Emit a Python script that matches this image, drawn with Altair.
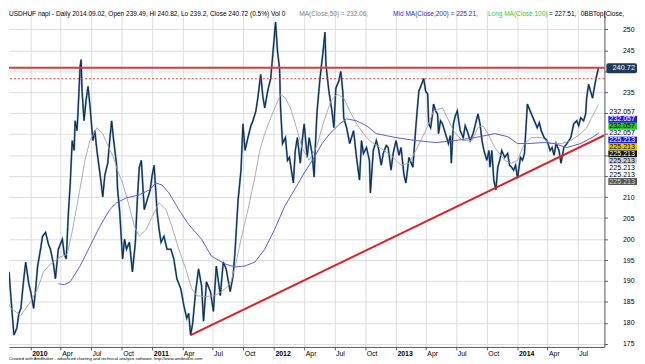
import altair as alt
import pandas as pd
import numpy as np

FONT = "Liberation Sans"

# ---- price (close): decimal year, value ----
close_t = [2009.773, 2009.789, 2009.805, 2009.822, 2009.838, 2009.862, 2009.886, 2009.903, 2009.919, 2009.943,
           2009.959, 2009.984, 2010.000, 2010.024, 2010.041, 2010.057, 2010.081, 2010.097, 2010.122, 2010.146,
           2010.162, 2010.187, 2010.203, 2010.227, 2010.243, 2010.260, 2010.276, 2010.292, 2010.308, 2010.325,
           2010.341, 2010.357, 2010.365, 2010.381, 2010.389, 2010.406, 2010.414, 2010.422, 2010.438, 2010.454,
           2010.471, 2010.487, 2010.511, 2010.527, 2010.544, 2010.560, 2010.576, 2010.592, 2010.609, 2010.633,
           2010.649, 2010.665, 2010.682, 2010.706, 2010.714, 2010.730, 2010.755, 2010.771, 2010.787, 2010.811,
           2010.836, 2010.860, 2010.876, 2010.892, 2010.909, 2010.933, 2010.957, 2010.982, 2010.998, 2011.014,
           2011.039, 2011.055, 2011.071, 2011.095, 2011.120, 2011.152, 2011.176, 2011.201, 2011.233, 2011.258,
           2011.282, 2011.298, 2011.314, 2011.331, 2011.355, 2011.379, 2011.404, 2011.420, 2011.444, 2011.477,
           2011.501, 2011.525, 2011.558, 2011.582, 2011.606, 2011.639, 2011.663, 2011.680, 2011.704, 2011.728,
           2011.744, 2011.761, 2011.785, 2011.809, 2011.826, 2011.850, 2011.866, 2011.890, 2011.907, 2011.923,
           2011.947, 2011.972, 2011.996, 2012.012, 2012.028, 2012.045, 2012.053, 2012.069, 2012.093, 2012.110,
           2012.126, 2012.142, 2012.158, 2012.174, 2012.191, 2012.215, 2012.231, 2012.247, 2012.272, 2012.288,
           2012.312, 2012.329, 2012.337, 2012.353, 2012.377, 2012.402, 2012.418, 2012.426, 2012.450, 2012.475,
           2012.491, 2012.507, 2012.531, 2012.548, 2012.564, 2012.572, 2012.596, 2012.621, 2012.653, 2012.677,
           2012.702, 2012.718, 2012.734, 2012.759, 2012.783, 2012.791, 2012.815, 2012.840, 2012.856, 2012.880,
           2012.897, 2012.921, 2012.937, 2012.961, 2012.978, 2013.002, 2013.026, 2013.043, 2013.067, 2013.083,
           2013.108, 2013.140, 2013.164, 2013.189, 2013.205, 2013.221, 2013.229, 2013.245, 2013.262, 2013.270,
           2013.286, 2013.302, 2013.310, 2013.327, 2013.343, 2013.351, 2013.367, 2013.383, 2013.408, 2013.432,
           2013.448, 2013.456, 2013.473, 2013.489, 2013.505, 2013.529, 2013.554, 2013.570, 2013.586, 2013.611,
           2013.635, 2013.651, 2013.675, 2013.692, 2013.708, 2013.724, 2013.748, 2013.765, 2013.773, 2013.789,
           2013.805, 2013.822, 2013.838, 2013.854, 2013.870, 2013.895, 2013.919, 2013.935, 2013.951, 2013.968,
           2013.984, 2014.000, 2014.024, 2014.041, 2014.057, 2014.081, 2014.097, 2014.114, 2014.138, 2014.162,
           2014.179, 2014.195, 2014.219, 2014.243, 2014.268, 2014.284, 2014.300, 2014.317, 2014.341, 2014.357,
           2014.381, 2014.406, 2014.422, 2014.438, 2014.462, 2014.487, 2014.503, 2014.519, 2014.543, 2014.560,
           2014.568, 2014.584, 2014.600, 2014.617, 2014.633, 2014.649, 2014.665]
close_v = [181.12, 177.12, 185.82, 192.18, 185.82, 177.12, 178.76, 182.29, 183.47, 190.53,
           194.53, 189.35, 187.47, 183.47, 188.18, 193.59, 197.59, 200.65, 201.59, 198.76,
           197.59, 194.06, 190.53, 197.59, 198.76, 199.94, 196.41, 195.24, 205.35, 213.35,
           223.47, 221.12, 228.18, 225.82, 230.53, 241.12, 242.76, 235.24, 228.18, 232.88,
           236.41, 231.71, 223.47, 225.82, 221.12, 217.59, 214.06, 210.06, 215.24, 218.06,
           223.47, 228.18, 223.47, 217.59, 211.71, 207.00, 195.24, 199.94, 197.59, 199.24,
           192.18, 199.24, 209.35, 217.12, 218.76, 207.00, 209.35, 211.71, 215.24, 217.59,
           206.29, 202.29, 199.24, 200.65, 197.59, 197.59, 195.24, 190.53, 188.18, 184.18,
           181.12, 182.29, 177.12, 179.94, 187.47, 192.88, 188.88, 180.41, 189.82, 187.47,
           182.76, 193.59, 186.53, 194.53, 192.88, 187.47, 191.24, 197.59, 209.35, 216.41,
           227.47, 221.12, 224.18, 227.00, 228.18, 230.53, 233.59, 239.23, 234.06, 231.24,
           235.24, 238.29, 246.29, 251.71, 244.65, 240.65, 231.24, 222.76, 224.18, 218.76,
           219.47, 216.41, 213.35, 221.12, 224.18, 218.06, 223.47, 227.47, 219.47, 224.18,
           220.41, 214.76, 221.12, 230.53, 238.29, 244.65, 249.35, 241.59, 235.24, 230.53,
           226.53, 235.94, 237.59, 239.94, 235.24, 228.88, 226.53, 222.76, 225.82, 219.47,
           214.06, 223.47, 220.41, 221.82, 218.76, 211.00, 221.12, 223.47, 221.82, 217.59,
           220.41, 222.29, 221.82, 216.41, 220.41, 223.47, 219.94, 221.82, 215.24, 213.35,
           219.47, 217.12, 226.53, 235.24, 236.41, 237.59, 238.29, 235.24, 234.53, 227.47,
           226.53, 229.82, 232.18, 230.53, 229.82, 225.12, 228.18, 227.47, 225.12, 222.76,
           224.65, 218.06, 227.47, 229.35, 230.53, 225.82, 224.18, 227.00, 225.82, 223.47,
           225.12, 227.00, 229.82, 227.47, 223.47, 221.12, 218.76, 221.12, 217.12, 221.12,
           214.06, 211.71, 217.12, 218.76, 221.12, 219.47, 220.41, 217.59, 217.12, 216.41,
           217.59, 214.53, 219.47, 218.76, 220.41, 232.18, 231.00, 229.82, 228.18, 226.53,
           227.71, 225.82, 224.18, 223.47, 221.12, 221.82, 219.94, 222.76, 221.12, 218.06,
           221.82, 222.76, 223.47, 224.18, 227.47, 228.18, 227.00, 228.88, 228.18, 229.82,
           233.59, 236.88, 235.24, 233.59, 236.41, 238.76, 240.72]

# ---- MA(Close,50) (gray) ----
ma50_t = [2009.773, 2009.838, 2009.919, 2010.000, 2010.057, 2010.105, 2010.162, 2010.243, 2010.300, 2010.341,
          2010.389, 2010.446, 2010.487, 2010.544, 2010.592, 2010.633, 2010.673, 2010.714, 2010.755, 2010.811,
          2010.852, 2010.892, 2010.949, 2010.998, 2011.055, 2011.112, 2011.160, 2011.217, 2011.274, 2011.323,
          2011.363, 2011.420, 2011.517, 2011.598, 2011.647, 2011.688, 2011.728, 2011.785, 2011.842, 2011.882,
          2011.923, 2011.972, 2012.053, 2012.093, 2012.134, 2012.191, 2012.231, 2012.288, 2012.353, 2012.410,
          2012.467, 2012.515, 2012.572, 2012.621, 2012.677, 2012.734, 2012.783, 2012.880, 2012.961, 2013.043,
          2013.108, 2013.164, 2013.245, 2013.310, 2013.383, 2013.424, 2013.473, 2013.546, 2013.627, 2013.675,
          2013.716, 2013.757, 2013.813, 2013.895, 2013.951, 2014.000, 2014.057, 2014.114, 2014.195, 2014.276,
          2014.357, 2014.438, 2014.519, 2014.568, 2014.625, 2014.665]
ma50_v = [187.00, 183.47, 181.82, 185.12, 188.18, 192.18, 194.06, 195.71, 196.41, 201.82,
          209.35, 218.76, 223.47, 226.53, 225.12, 222.29, 219.94, 216.41, 213.35, 207.71,
          203.00, 200.65, 202.29, 205.35, 208.65, 207.00, 203.00, 197.59, 192.88, 188.18,
          186.53, 186.29, 186.53, 188.18, 189.82, 194.53, 199.94, 207.00, 214.76, 221.12,
          225.12, 228.88, 234.53, 233.59, 231.24, 225.82, 221.59, 218.76, 222.29, 228.18,
          232.88, 234.53, 233.59, 230.53, 227.47, 225.12, 223.47, 221.59, 219.94, 217.59,
          218.06, 221.12, 225.82, 230.53, 231.24, 228.88, 225.82, 223.47, 223.47, 226.53,
          227.00, 225.12, 221.82, 218.76, 218.06, 218.76, 222.76, 224.18, 224.18, 222.76,
          222.76, 223.47, 225.12, 226.53, 229.82, 232.06]

# ---- Mid MA(Close,200) (blue) ----
ma200_t = [2010.227, 2010.276, 2010.325, 2010.406, 2010.487, 2010.568, 2010.649, 2010.706, 2010.787, 2010.892,
           2010.974, 2011.030, 2011.079, 2011.136, 2011.217, 2011.298, 2011.404, 2011.485, 2011.598, 2011.680,
           2011.761, 2011.842, 2011.923, 2012.004, 2012.085, 2012.166, 2012.247, 2012.329, 2012.394, 2012.458,
           2012.540, 2012.596, 2012.677, 2012.759, 2012.840, 2012.921, 2013.002, 2013.164, 2013.327, 2013.489,
           2013.651, 2013.813, 2013.919, 2014.000, 2014.081, 2014.219, 2014.300, 2014.406, 2014.519, 2014.625,
           2014.665]
ma200_v = [189.35, 189.12, 189.82, 193.59, 198.29, 203.00, 207.00, 208.65, 209.82, 210.53,
           211.71, 213.35, 212.88, 211.00, 207.00, 203.47, 199.94, 195.94, 194.06, 193.35,
           193.59, 194.53, 197.59, 202.29, 207.71, 211.71, 215.71, 219.47, 222.76, 225.12,
           227.47, 228.65, 228.18, 227.00, 225.12, 224.65, 224.18, 223.47, 223.00, 223.47,
           224.18, 225.12, 224.41, 222.76, 222.76, 223.00, 222.76, 221.82, 222.76, 224.41,
           225.21]

# ---- drawn studies ----
trend_t = [2011.314, 2014.714]
trend_v = [177.10, 224.74]
resistance_level = [240.80]
dotted_level = [238.20]
last_close = 240.72

# right-hand value labels (text, box fill, text colour)
stack_values = [232.057, 232.057, 232.057, 232.057, 225.213, 225.213, 225.213, 225.213, 225.213, 225.213, 225.213]
stack_fill = [None, "#1f1fd8", "#24c824", None, "#1f1fd8", "#f0c000", "#111111", "#cfcfcf", None, None, "#555555"]
stack_ink = ["#000000", "#ffffff", "#000000", "#000000", "#ffffff", "#000000", "#ffffff", "#000000", "#000000",
             "#000000", "#d8d8d8"]

title_parts = [
    ("USDHUF napi - Daily 2014.09.02, Open 239.49, Hi 240.82, Lo 239.2, Close 240.72 (0.5%) Vol 0", "#000000", 0),
    ("MA(Close,50) = 232.06,", "#808080", 294),
    ("Mid MA(Close,200) = 225.21,", "#2a2ad0", 389),
    ("Long MA(Close,100)", "#2ccf2c", 485),
    ("= 227.51,", "#000000", 547),
    ("0BBTop(Close,", "#000000", 579),
]
credit = "Created with AmiBroker - advanced charting and technical analysis software. http://www.amibroker.com"

y_ticks = list(range(175, 256, 5))
hidden_y = [215, 220, 225, 230, 240]


def to_dt(years):
    years = np.asarray(years, dtype=float)
    return pd.Timestamp("2010-01-01") + pd.to_timedelta((years - 2010.0) * 365.25, unit="D")


def dt_obj(ts):
    return alt.DateTime(year=int(ts.year), month=int(ts.month), date=int(ts.day),
                        hours=int(ts.hour), minutes=int(ts.minute))


W, H = 603, 341
x_dom = to_dt([2009.8215, 2014.714])
x_scale = alt.Scale(domain=[dt_obj(x_dom[0]), dt_obj(x_dom[1])], nice=False)
y_scale = alt.Scale(domain=[174.29, 254.53], nice=False, zero=False)

tick_vals = [alt.DateTime(year=yy, month=mm, date=1) for yy in range(2010, 2015) for mm in (1, 4, 7, 10)
             if not (yy == 2014 and mm == 10)]

x_axis = alt.Axis(
    title=None, values=tick_vals, grid=True, gridColor="#dcdcdc", gridWidth=1,
    domainColor="#555555", tickColor="#555555", tickSize=3,
    labelExpr="month(datum.value)==0 ? timeFormat(datum.value,'%Y') : timeFormat(datum.value,'%b')",
    labelFontWeight={"condition": {"test": "month(datum.value)==0", "value": "bold"}, "value": "normal"},
    labelAlign="left", labelBaseline="top", labelPadding=0, labelOffset=1, labelFlush=False,
    labelOverlap=False, labelFont=FONT, labelFontSize=7, labelColor="#000000")

y_axis = alt.Axis(
    title=None, orient="right", values=y_ticks, grid=True, gridColor="#dcdcdc", gridWidth=1,
    domainColor="#555555", tickColor="#555555", tickSize=3,
    labelAlign="right", labelPadding=27, labelFont=FONT, labelFontSize=7, labelColor="#000000",
    labelOverlap=False, labelFlush=False, labelBound=False,
    labelExpr="indexof([215,220,225,230,240], datum.value) >= 0 ? '' : datum.label")


def xe(field="date"):
    return alt.X(f"{field}:T", scale=x_scale, axis=x_axis)


def ye(field="value"):
    return alt.Y(f"{field}:Q", scale=y_scale, axis=y_axis)


df_close = pd.DataFrame({"date": to_dt(close_t), "value": close_v})
df_ma50 = pd.DataFrame({"date": to_dt(ma50_t), "value": ma50_v})
df_ma200 = pd.DataFrame({"date": to_dt(ma200_t), "value": ma200_v})
df_trend = pd.DataFrame({"date": to_dt(trend_t), "value": trend_v})

layers = []
layers.append(alt.Chart(df_close).mark_line(color="#6f98c0", strokeWidth=2.0, clip=True)
              .encode(x=xe(), y=ye()))
layers.append(alt.Chart(df_close).mark_line(color="#0f2b4d", strokeWidth=1.1, clip=True)
              .encode(x=xe(), y=ye()))
layers.append(alt.Chart(df_ma50).mark_line(color="#a3a3a3", strokeWidth=0.9, clip=True)
              .encode(x=xe(), y=ye()))
layers.append(alt.Chart(df_ma200).mark_line(color="#5a5ad6", strokeWidth=1.0, clip=True)
              .encode(x=xe(), y=ye()))
layers.append(alt.Chart(pd.DataFrame({"value": resistance_level})).mark_rule(color="#e03838", strokeWidth=2)
              .encode(y=ye()))
layers.append(alt.Chart(pd.DataFrame({"value": dotted_level}))
              .mark_rule(color="#e03838", strokeWidth=1, strokeDash=[2, 2]).encode(y=ye()))
layers.append(alt.Chart(df_trend).mark_line(color="#dd2222", strokeWidth=2, clip=True)
              .encode(x=xe(), y=ye()))

# last-price box on the right axis
df_last = pd.DataFrame({"value": [last_close], "lo": [last_close - 1.2], "hi": [last_close + 1.2],
                        "label": [f"{last_close:.2f}"]})
layers.append(alt.Chart(df_last).mark_rect(color="#1b3a5c", cornerRadius=2)
              .encode(x=alt.value(605), x2=alt.value(636), y=ye("lo"), y2="hi:Q"))
layers.append(alt.Chart(df_last).mark_text(align="right", baseline="middle", font=FONT, fontSize=7.5,
                                           color="#ffffff")
              .encode(x=alt.value(634), y=ye("value"), text="label:N"))

# stacked study-value labels
y0, step = 103.5, 7.0
for i, (v, fill, ink) in enumerate(zip(stack_values, stack_fill, stack_ink)):
    yc = y0 + i * step
    if fill is not None:
        layers.append(alt.Chart(alt.Data(values=[{"k": 1}])).mark_rect(color=fill)
                      .encode(x=alt.value(607), x2=alt.value(636),
                              y=alt.value(yc - step / 2), y2=alt.value(yc + step / 2)))
    layers.append(alt.Chart(alt.Data(values=[{"t": f"{v:.3f}"}]))
                  .mark_text(align="right", baseline="middle", font=FONT, fontSize=7.2, color=ink)
                  .encode(x=alt.value(634), y=alt.value(yc), text="t:N"))

# title line
for txt, col, xp in title_parts:
    layers.append(alt.Chart(alt.Data(values=[{"t": txt}]))
                  .mark_text(align="left", baseline="middle", font=FONT, fontSize=6.6, color=col)
                  .encode(x=alt.value(xp), y=alt.value(4), text="t:N"))

# credit line
layers.append(alt.Chart(alt.Data(values=[{"t": credit}]))
              .mark_text(align="left", baseline="middle", font=FONT, fontSize=4.3, color="#000000")
              .encode(x=alt.value(0), y=alt.value(353), text="t:N"))

chart = (alt.layer(*layers)
         .properties(width=W, height=H, padding=0, background="#ffffff")
         .configure_view(stroke=None))

chart.save("out.html", embed_options={"renderer": "svg", "actions": False})
